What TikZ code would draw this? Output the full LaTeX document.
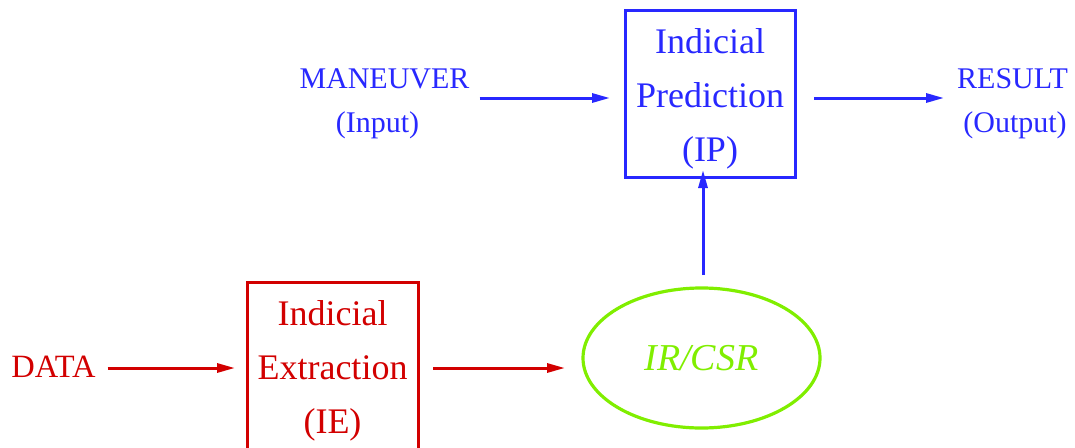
\documentclass[tikz,border=0pt]{standalone}
\usepackage{fontspec}
\setmainfont{Liberation Serif}
\usetikzlibrary{arrows.meta,shapes.geometric}
\definecolor{flowblue}{RGB}{40,40,255}
\definecolor{flowred}{RGB}{210,0,0}
\definecolor{flowgreen}{RGB}{128,238,0}
\begin{document}
\begin{tikzpicture}[x=1pt,y=-1pt,
  block/.style={draw,line width=3pt,outer sep=0pt,inner sep=0pt,align=center,
    font=\fontsize{36}{54}\selectfont},
  lbl/.style={inner sep=0pt,anchor=base,font=\fontsize{30}{36}\selectfont},
  arr/.style={line width=3pt,-{Triangle[length=18pt,width=9pt]}}]
\useasboundingbox (0,0) rectangle (1075,447);

% reference rows of the horizontal flows
\coordinate (toprow) at (0,98);
\coordinate (botrow) at (0,368);

% prediction stage
\node[block,flowblue,minimum width=170,minimum height=167] (ip) at (710,93.5)
  {\rule{0pt}{35pt}Indicial\\Prediction\\(IP)};
\node[lbl,flowblue] (maneuver) at (384.5,88) {MANEUVER};
\node[lbl,flowblue] (input) at (377.5,132) {(Input)};
\node[lbl,flowblue] (result) at (1012.5,88) {RESULT};
\node[lbl,flowblue] (output) at (1015,132) {(Output)};

% extraction stage
\node[block,flowred,minimum width=171,minimum height=170] (ie) at (332.5,367)
  {\rule{0pt}{33pt}Indicial\\Extraction\\(IE)};
\node[lbl,flowred,font=\fontsize{32.5}{36}\selectfont] (data) at (53.5,377) {DATA};
\node[draw=flowgreen,ellipse,line width=3.2pt,inner sep=0pt,outer sep=0pt,
  minimum width=237,minimum height=140,text=flowgreen,
  font=\fontsize{38}{40}\selectfont\itshape] (ell) at (701.5,358) {IR/CSR};

% connectors
\draw[arr,flowblue] ([xshift=10pt]maneuver.east |- toprow) -- ([xshift=-15pt]ip.west |- toprow);
\draw[arr,flowblue] ([xshift=19pt]ip.east |- toprow) -- ([xshift=-13pt]result.west |- toprow);
\draw[arr,flowblue] ([xshift=1.5pt,yshift=13pt]ell.north) -- ([xshift=-7pt,yshift=7pt]ip.south);
\draw[arr,flowred] ([xshift=12pt]data.east |- botrow) -- ([xshift=-12pt]ie.west |- botrow);
\draw[arr,flowred] ([xshift=15pt]ie.east |- botrow) -- ([xshift=-18pt]ell.west |- botrow);
\end{tikzpicture}
\end{document}
